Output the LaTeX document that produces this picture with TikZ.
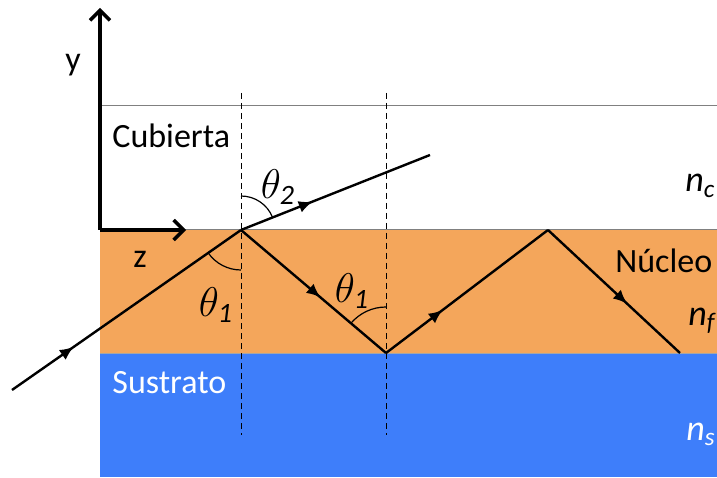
\documentclass[tikz,border=0pt]{standalone}
\usepackage{fontspec}
\setmainfont{Carlito}
\usepackage{tikz}
\usetikzlibrary{arrows.meta, decorations.markings, calc}
\definecolor{Nucleo}{RGB}{244,166,91}
\definecolor{Sustrato}{RGB}{62,126,250}
\tikzset{
  rayo/.style={line width=1.2pt},
  midarrow/.style={postaction={decorate, decoration={markings,
      mark=at position #1 with {\arrow{Latex[length=7pt,width=6pt]}}}}},
  guia/.style={dashed, line width=0.5pt, dash pattern=on 3pt off 2pt},
  etiqueta/.style={anchor=base west, inner sep=0pt, font=\fontsize{17}{20}\selectfont},
  indice/.style={anchor=base west, inner sep=0pt, font=\fontsize{18}{22}\selectfont},
  angulo/.style={font=\fontsize{20}{24}\selectfont},
}

\begin{document}
\begin{tikzpicture}[x=0.5pt, y=0.5pt]
    \useasboundingbox (0,0) rectangle (717,477);
    \clip (0,0) rectangle (717,477);

    % capas
    \fill[Nucleo] (100,124) rectangle (717,247);
    \fill[Sustrato] (100,0) rectangle (717,124);
    \draw[gray, line width=0.5pt] (100,371) -- (717,371);
    \draw[gray, line width=0.5pt] (100,247) -- (717,247);
    \draw[gray!70, line width=0.4pt] (100,124) -- (717,124);

    % puntos del rayo
    \coordinate (A) at (12,87);
    \coordinate (B) at (241,247);
    \coordinate (C) at (386,124);
    \coordinate (D) at (548,247);
    \coordinate (E) at (680,124);
    \coordinate (F) at (430,322);

    % normales
    \draw[guia] (241,384) -- (241,42);
    \draw[guia] (386,384) -- (386,42);

    % ejes
    \coordinate (O) at (100,247);
    \draw[line width=1.7pt, -{Straight Barb[length=5pt,width=10pt]}] (O) -- (100,469) coordinate (Ytip);
    \draw[line width=1.7pt, -{Straight Barb[length=5pt,width=10pt]}] (O) -- (186,247) coordinate (Ztip);
    \node[etiqueta, anchor=center] (ylab) at (73,412) {y};
    \node[etiqueta, anchor=center] (zlab) at (140,218) {z};

    % rayos
    \draw[rayo, midarrow=0.27] (A) -- (B);
    \draw[rayo, midarrow=0.55] (B) -- (C);
    \draw[rayo, midarrow=0.35] (C) -- (D);
    \draw[rayo, midarrow=0.6] (D) -- (E);
    \draw[rayo, midarrow=0.38] (B) -- (F);

    % angulos
    \draw[line width=0.6pt] ($(B)+(0,34)$) arc[start angle=90, end angle=22, radius=34];
    \draw[line width=0.6pt] ($(B)+(0,-40)$) arc[start angle=270, end angle=215, radius=40];
    \draw[line width=0.6pt] ($(C)+(0,46)$) arc[start angle=90, end angle=140, radius=46];
    \node[angulo] (t2) at (278,290) {$\theta_{\mathit{2}}$};
    \node[angulo] (t1a) at (216,172) {$\theta_{\mathit{1}}$};
    \node[angulo] (t1b) at (352,186) {$\theta_{\mathit{1}}$};

    % textos
    \node[etiqueta] (cub) at (112,329) {Cubierta};
    \node[etiqueta] (nuc) at (615,205) {Núcleo};
    \node[etiqueta, text=white] (sus) at (112,84) {Sustrato};
    \node[indice] (nc) at (685,285) {\textit{n\textsubscript{c}}};
    \node[indice] (nf) at (688,152) {\textit{n\textsubscript{f}}};
    \node[indice, text=white] (ns) at (686,37) {\textit{n\textsubscript{s}}};
\end{tikzpicture}
\end{document}
